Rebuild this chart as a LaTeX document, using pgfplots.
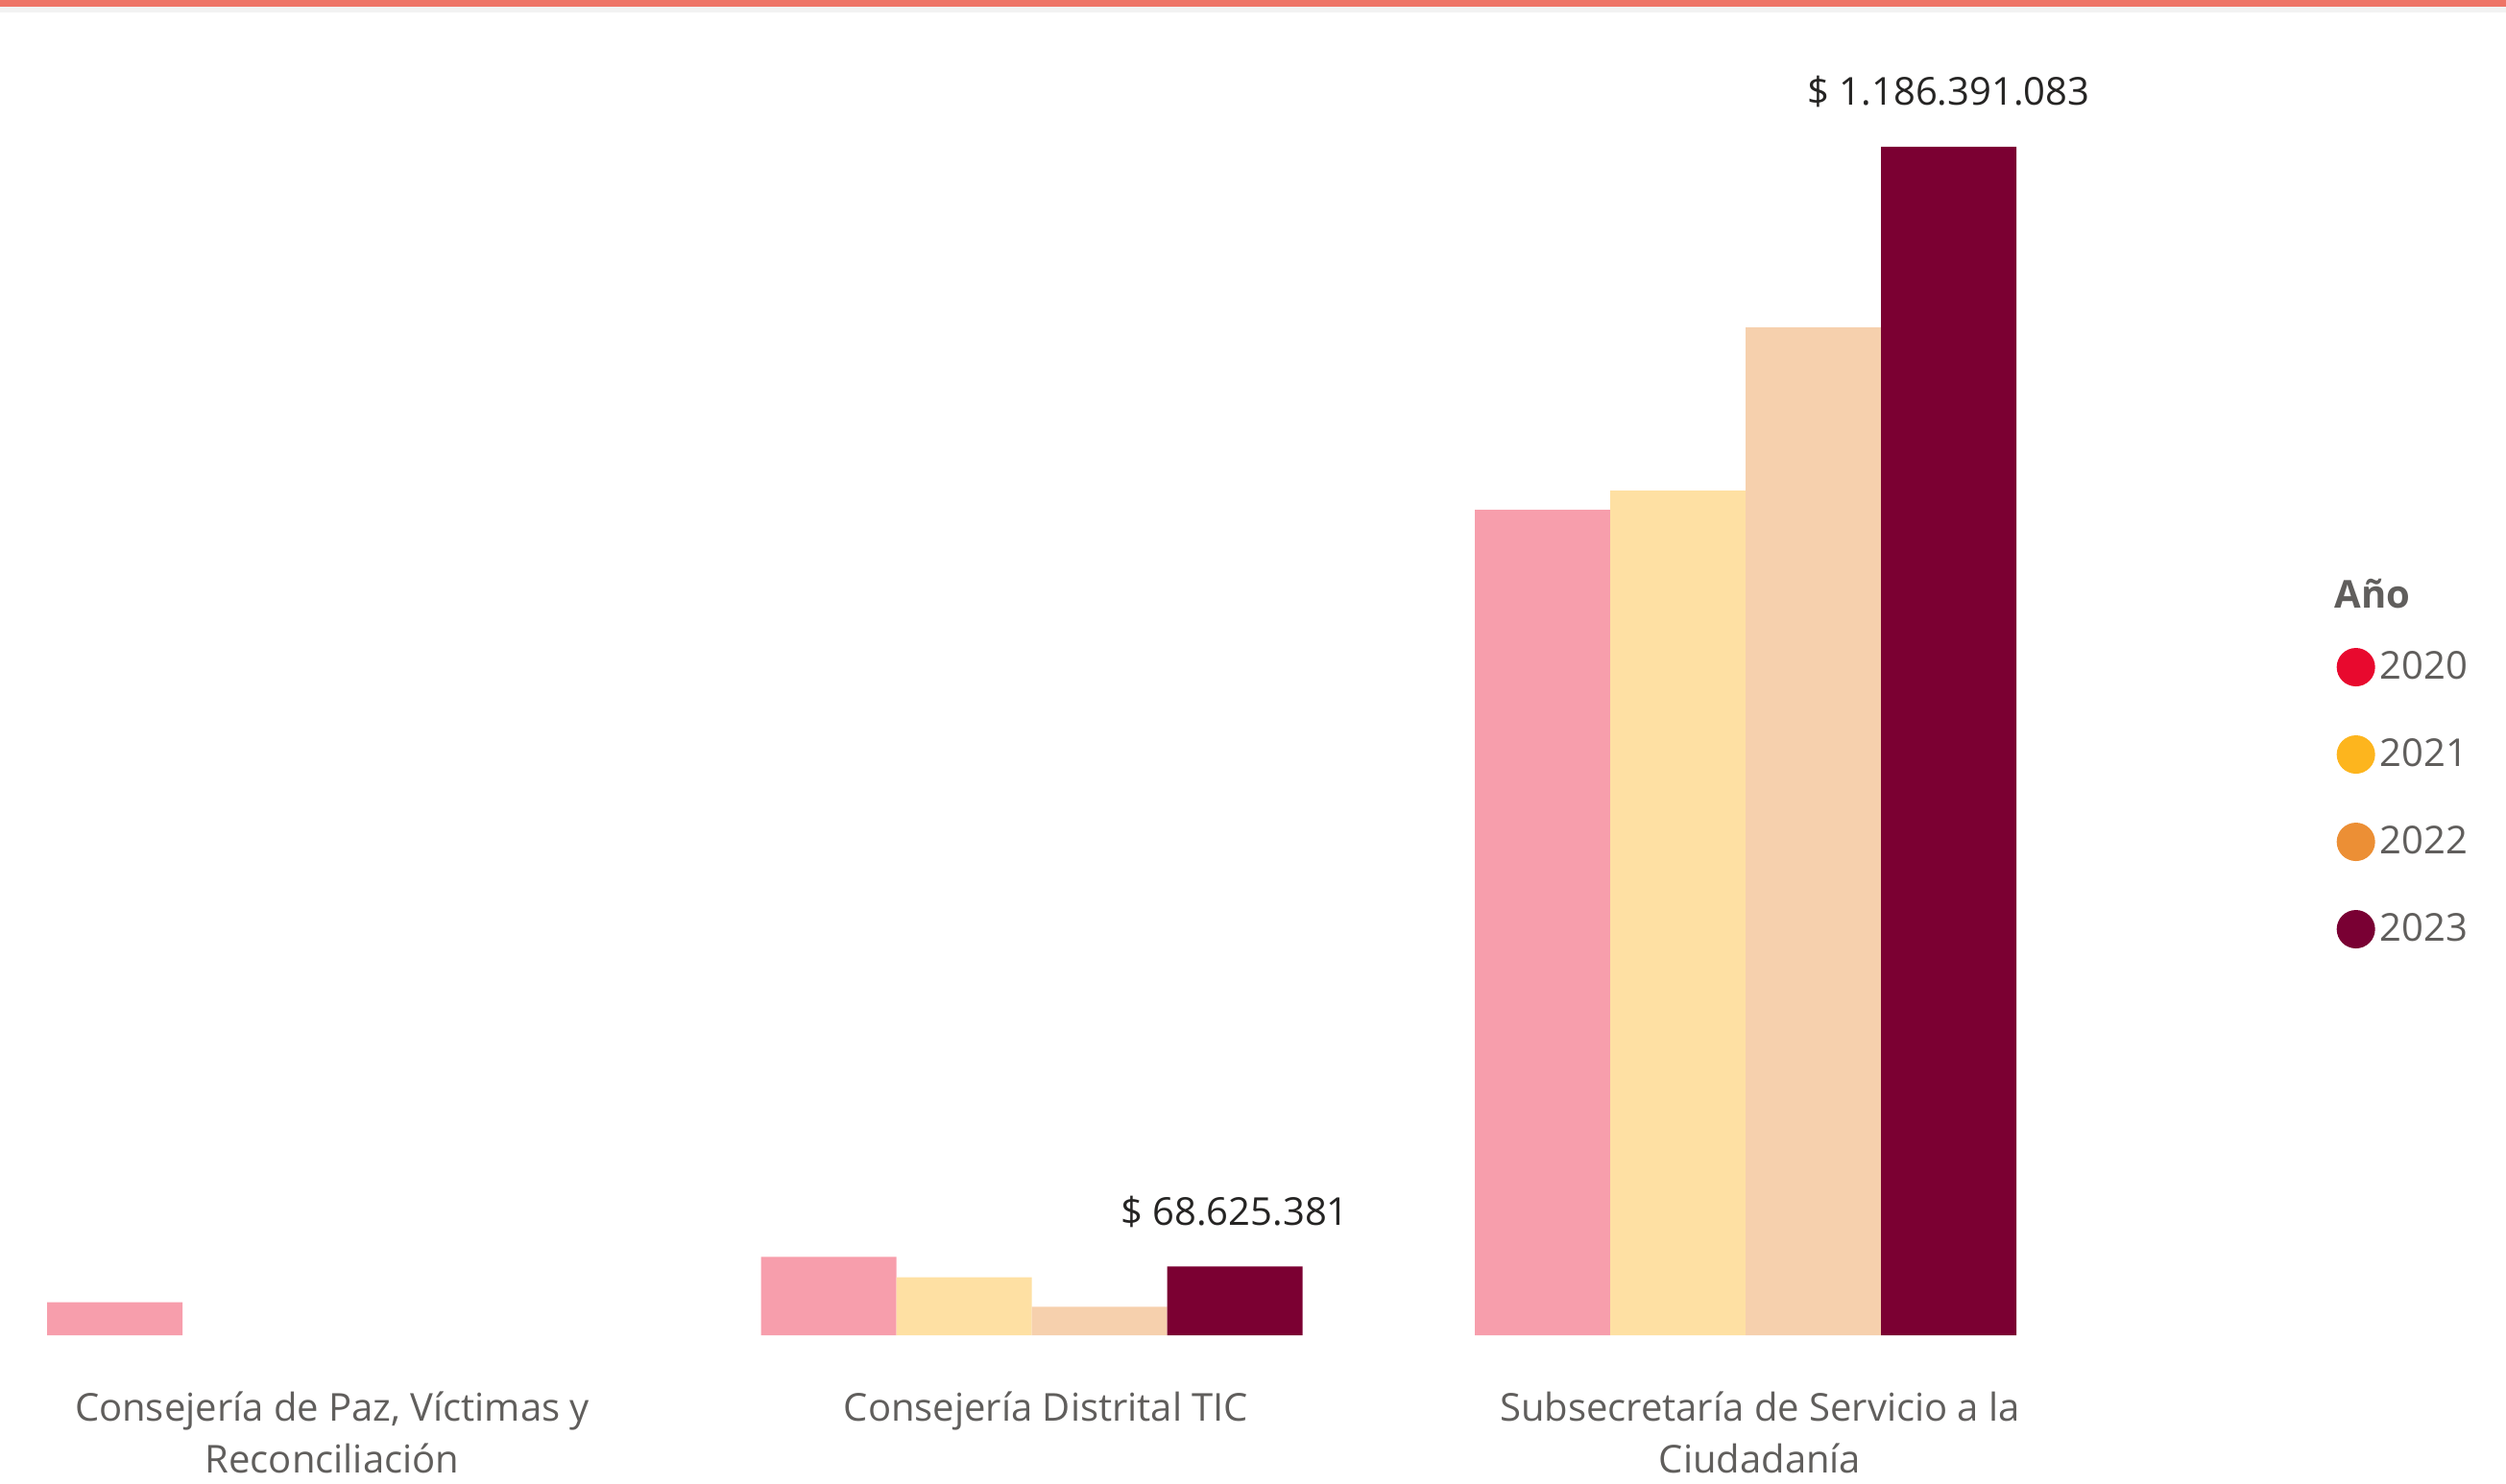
\documentclass[border=0pt]{standalone}
\usepackage{fontspec}
\setmainfont{Open Sans}
\usepackage{pgfplots}
\pgfplotsset{compat=1.18}

\definecolor{bar20}{HTML}{F79EAC}
\definecolor{bar21}{HTML}{FEE0A3}
\definecolor{bar22}{HTML}{F6D0AD}
\definecolor{bar23}{HTML}{7B0032}
\definecolor{leg20}{HTML}{E8092E}
\definecolor{leg21}{HTML}{FDB51E}
\definecolor{leg22}{HTML}{EC8F35}
\definecolor{leg23}{HTML}{790033}
\definecolor{labelgray}{HTML}{605E5C}
\definecolor{darktext}{HTML}{252423}
\definecolor{topline}{HTML}{EE7466}

\begin{document}
\begin{tikzpicture}
\useasboundingbox (0,0) rectangle (783pt,463.5pt);
\fill[topline] (0,461.4pt) rectangle (783pt,463.5pt);
\fill[black!5] (0,459.6pt) rectangle (783pt,461.4pt);

\begin{axis}[
  at={(0pt,46.2pt)}, anchor=south west,
  scale only axis, width=660pt, height=417.3pt,
  clip=false,
  xmin=-0.4452, xmax=2.5138,
  ymin=0, ymax=1333000000,
  ybar=0pt, bar width=42.3pt,
  axis line style={draw=none},
  tick style={draw=none},
  ytick=\empty,
  xtick={0,1,2},
  xticklabels={{Consejería de Paz, Víctimas y\\Reconciliación},{Consejería Distrital TIC},{Subsecretaría de Servicio a la\\Ciudadanía}},
  xticklabel style={align=center, font=\fontsize{12}{16}\selectfont, text=labelgray,
    anchor=north, inner sep=0pt, xshift=4.5pt, yshift=-13.3pt},
  legend cell align=left,
  legend style={at={(axis description cs:1.1059,0.5152)}, anchor=north west,
    draw=none, fill=none, inner sep=0pt, row sep=15.3pt, column sep=1.5pt,
    font=\fontsize{12}{14}\selectfont, text=labelgray, nodes={inner sep=0pt}},
]

\addplot[fill=bar20, draw=none,
  legend image code/.code={\fill[leg20] (6pt,0pt) circle[radius=6pt];}]
  coordinates {(0,32900000) (1,78300000) (2,824100000)};
\addlegendentry{2020}

\addplot[fill=bar21, draw=none,
  legend image code/.code={\fill[leg21] (6pt,0pt) circle[radius=6pt];}]
  coordinates {(1,57800000) (2,843300000)};
\addlegendentry{2021}

\addplot[fill=bar22, draw=none,
  legend image code/.code={\fill[leg22] (6pt,0pt) circle[radius=6pt];}]
  coordinates {(1,28500000) (2,1006000000)};
\addlegendentry{2022}

\addplot[fill=bar23, draw=none,
  legend image code/.code={\fill[leg23] (6pt,0pt) circle[radius=6pt];},
  point meta=explicit symbolic, nodes near coords,
  nodes near coords style={font=\fontsize{12}{14}\selectfont, text=darktext,
    anchor=base, inner sep=0pt, yshift=13pt}]
  coordinates {(1,68625381) [\$ 68.625.381] (2,1186391083) [\$ 1.186.391.083]};
\addlegendentry{2023}

\node[anchor=west, inner sep=0pt, text=labelgray,
  font=\bfseries\fontsize{12}{14}\selectfont] at (axis description cs:1.105,0.555) {Año};
\end{axis}
\end{tikzpicture}
\end{document}
